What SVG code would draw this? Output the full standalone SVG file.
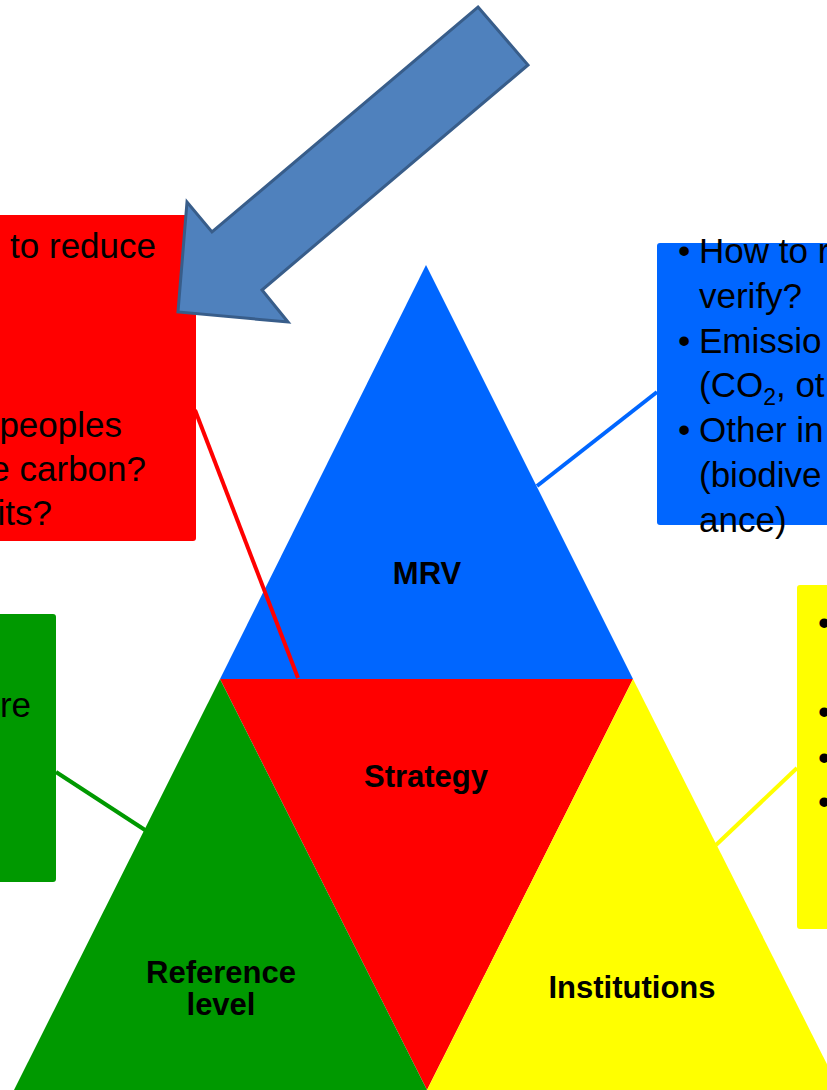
<svg xmlns="http://www.w3.org/2000/svg" width="827" height="1090" viewBox="0 0 827 1090">
<style>
.box-text{font-family:"Liberation Sans",Arial,sans-serif;font-size:35px;fill:#000}
.label{font-family:"Liberation Sans",Arial,sans-serif;font-size:31px;font-weight:bold;fill:#000;text-anchor:middle}
.conn{stroke-width:4;fill:none}
</style>
<rect width="827" height="1090" fill="#fff"/>
<g id="strategy-box">
<rect x="-10" y="215" width="206" height="326" rx="3" fill="#ff0000"/>
<g class="box-text" text-anchor="end">
<text x="156" y="258">to reduce</text>
<text x="122" y="437">peoples</text>
<text x="146" y="481">e carbon?</text>
<text x="52" y="525">its?</text>
</g>
</g>
<g id="mrv-box">
<rect x="657" y="243" width="200" height="282" rx="3" fill="#0066ff"/>
<g class="box-text">
<text x="678" y="263">•</text><text x="699" y="263">How to r</text>
<text x="699" y="308">verify?</text>
<text x="678" y="353">•</text><text x="699" y="353">Emissio</text>
<text x="699" y="397">(CO<tspan font-size="23" dy="8">2</tspan><tspan dy="-8">, ot</tspan></text>
<text x="678" y="442">•</text><text x="699" y="442">Other in</text>
<text x="699" y="487">(biodive</text>
<text x="699" y="532">ance)</text>
</g>
</g>
<g id="reference-box">
<rect x="-10" y="614" width="66" height="268" rx="3" fill="#009900"/>
<text class="box-text" x="31" y="717" text-anchor="end">re</text>
</g>
<g id="institutions-box">
<rect x="797" y="585" width="60" height="344" rx="3" fill="#ffff00"/>
<g class="box-text">
<text x="818" y="635">•</text>
<text x="818" y="724">•</text>
<text x="818" y="770">•</text>
<text x="818" y="814">•</text>
</g>
</g>
<g id="mrv">
<polygon points="426,265 633,679 220,679" fill="#0066ff"/>
<text class="label" x="427" y="584">MRV</text>
</g>
<g id="strategy">
<polygon points="220,679 633,679 427,1090" fill="#ff0000"/>
<text class="label" x="426" y="787">Strategy</text>
</g>
<g id="reference-level">
<polygon points="220,679 427,1090 14,1090" fill="#009900"/>
<text class="label" x="221" y="983">Reference</text>
<text class="label" x="221" y="1015">level</text>
</g>
<g id="institutions">
<polygon points="633,679 840,1090 427,1090" fill="#ffff00"/>
<text class="label" x="632" y="998">Institutions</text>
</g>
<g id="connectors">
<line class="conn" x1="195" y1="410" x2="298" y2="678" stroke="#ff0000"/>
<line class="conn" x1="537" y1="486" x2="657" y2="392" stroke="#0066ff"/>
<line class="conn" x1="56" y1="772" x2="145" y2="830" stroke="#009900"/>
<line class="conn" x1="716" y1="845" x2="797" y2="768" stroke="#ffff00"/>
</g>
<g id="arrow">
<polygon points="478,7 528,65 262,290 288,322 178,312 187,202 212,232" fill="#4f81bd" stroke="#385d8a" stroke-width="3" stroke-linejoin="miter"/>
</g>
</svg>
